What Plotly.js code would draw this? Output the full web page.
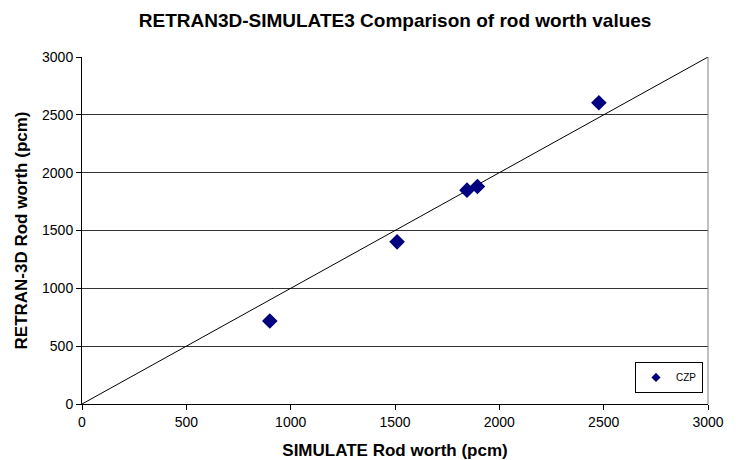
<!DOCTYPE html>
<html><head><meta charset="utf-8">
<script src="https://cdn.plot.ly/plotly-3.0.1.min.js"></script>
<style>body{margin:0;padding:0;background:#fff}#chart{width:736px;height:460px}</style>
</head><body><div id="chart"></div>
<script>
const seriesName = "CZP";
const simulateWorth = [900, 1510, 1845, 1895, 2477];
const retranWorth = [718, 1402, 1849, 1880, 2605];
const refLineX = [0, 3000];
const refLineY = [0, 3000];
const tickVals = [0, 500, 1000, 1500, 2000, 2500, 3000];

const traces = [
  {x: refLineX, y: refLineY, mode: 'lines', type: 'scatter', showlegend: false,
   line: {color: '#000000', width: 1}, hoverinfo: 'skip'},
  {x: simulateWorth, y: retranWorth, mode: 'markers', type: 'scatter', name: seriesName,
   showlegend: false, marker: {symbol: 'diamond', color: '#000080', size: 12}},
  {x: [null], y: [null], mode: 'markers', type: 'scatter', name: seriesName,
   marker: {symbol: 'diamond', color: '#000080', size: 7}}
];
const layout = {
  width: 736, height: 460,
  margin: {l: 82, r: 28, t: 57, b: 56},
  paper_bgcolor: '#ffffff', plot_bgcolor: '#ffffff',
  font: {family: 'Arial, "Liberation Sans", sans-serif', size: 14, color: '#000'},
  title: {text: '<b>RETRAN3D-SIMULATE3 Comparison of rod worth values</b>',
    font: {size: 19, color: '#000'}, x: 0.5368, xanchor: 'center', y: 0.956, yanchor: 'middle'},
  xaxis: {range: [0, 3000], tickvals: tickVals, showgrid: false, zeroline: false,
    showline: true, linecolor: '#000', linewidth: 1, mirror: false,
    ticks: 'outside', ticklen: 5, tickcolor: '#000',
    title: {text: '<b>SIMULATE Rod worth (pcm)</b>', font: {size: 17}, standoff: 16}},
  yaxis: {range: [0, 3000], tickvals: tickVals, showgrid: true, gridcolor: '#333', gridwidth: 1,
    zeroline: false, showline: true, linecolor: '#000', linewidth: 1, mirror: false,
    ticks: 'outside', ticklen: 5, tickcolor: '#000',
    title: {text: '<b>RETRAN-3D Rod worth (pcm)</b>', font: {size: 17}, standoff: 10}},
  shapes: [{type: 'line', xref: 'paper', yref: 'paper', x0: 1, x1: 1, y0: 0, y1: 1,
    line: {color: '#808080', width: 1}}],
  showlegend: true,
  legend: {x: 0.992, y: 0.032, xanchor: 'right', yanchor: 'bottom', bgcolor: '#fff',
    bordercolor: '#000', borderwidth: 1, font: {size: 10}, itemwidth: 30, tracegroupgap: 0}
};
Plotly.newPlot('chart', traces, layout, {displayModeBar: false, staticPlot: true});
</script></body></html>
